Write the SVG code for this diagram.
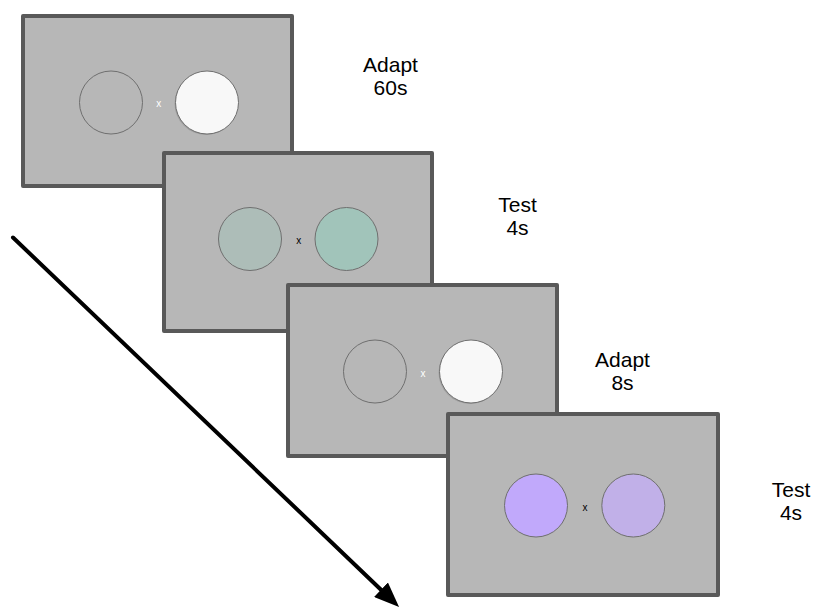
<svg xmlns="http://www.w3.org/2000/svg" width="815" height="607" viewBox="0 0 815 607">
  <style>
    .panel { fill: #b7b7b7; stroke: #595959; stroke-width: 4; stroke-linejoin: round; }
    .disc { stroke: #6f6f6f; stroke-width: 1; }
    .lbl { font-family: "Liberation Sans", Arial, sans-serif; font-size: 21px; fill: #000; text-anchor: middle; }
    .fix { font-family: "Liberation Sans", Arial, sans-serif; font-size: 10px; text-anchor: middle; }
  </style>
  <defs>
    <marker id="head" markerUnits="userSpaceOnUse" viewBox="0 0 25 20" refX="0" refY="10" markerWidth="25" markerHeight="20" orient="auto">
      <path d="M0,0 L25,10 L0,20 Z" fill="#000"/>
    </marker>
  </defs>
  <rect width="815" height="607" fill="#ffffff"/>

  <g id="frame1">
    <rect class="panel" x="23" y="16" width="269" height="170"/>
    <circle class="disc" cx="111" cy="102.5" r="31.5" fill="none"/>
    <circle cx="206" cy="103.5" r="31.5" fill="#8a8a8a" opacity="0.5"/>
    <circle class="disc" cx="207" cy="102.5" r="31.5" fill="#f8f8f8"/>
    <text class="fix" x="158.7" y="106.5" fill="#ffffff">x</text>
  </g>

  <g id="frame2">
    <rect class="panel" x="164" y="153" width="268" height="178"/>
    <circle class="disc" cx="250" cy="239" r="31.5" fill="#adbdb8"/>
    <circle class="disc" cx="346.5" cy="239" r="31.5" fill="#a1c4ba"/>
    <text class="fix" x="298.7" y="243.5" fill="#000000">x</text>
  </g>

  <g id="frame3">
    <rect class="panel" x="288" y="285" width="269" height="171"/>
    <circle class="disc" cx="375" cy="371.5" r="31.5" fill="none"/>
    <circle cx="470" cy="372.5" r="31.5" fill="#8a8a8a" opacity="0.5"/>
    <circle class="disc" cx="471" cy="371.5" r="31.5" fill="#f8f8f8"/>
    <text class="fix" x="423" y="376.5" fill="#ffffff">x</text>
  </g>

  <g id="frame4">
    <rect class="panel" x="448" y="414" width="270" height="181"/>
    <circle class="disc" cx="536" cy="505.5" r="31.5" fill="#c1a9fb"/>
    <circle class="disc" cx="633.3" cy="505.5" r="31.5" fill="#c1b0e8"/>
    <text class="fix" x="585" y="510.5" fill="#000000">x</text>
  </g>

  <g id="labels">
    <text class="lbl" x="390.5" y="71.5">Adapt</text>
    <text class="lbl" x="390.5" y="95">60s</text>
    <text class="lbl" x="517.5" y="211.5">Test</text>
    <text class="lbl" x="517.5" y="235">4s</text>
    <text class="lbl" x="622.5" y="366.5">Adapt</text>
    <text class="lbl" x="622.5" y="390">8s</text>
    <text class="lbl" x="791" y="496.5">Test</text>
    <text class="lbl" x="791" y="520">4s</text>
  </g>

  <g id="connectors">
    <line x1="13" y1="237.5" x2="381" y2="589.7" stroke="#000" stroke-width="4" stroke-linecap="round" marker-end="url(#head)"/>
  </g>
</svg>
